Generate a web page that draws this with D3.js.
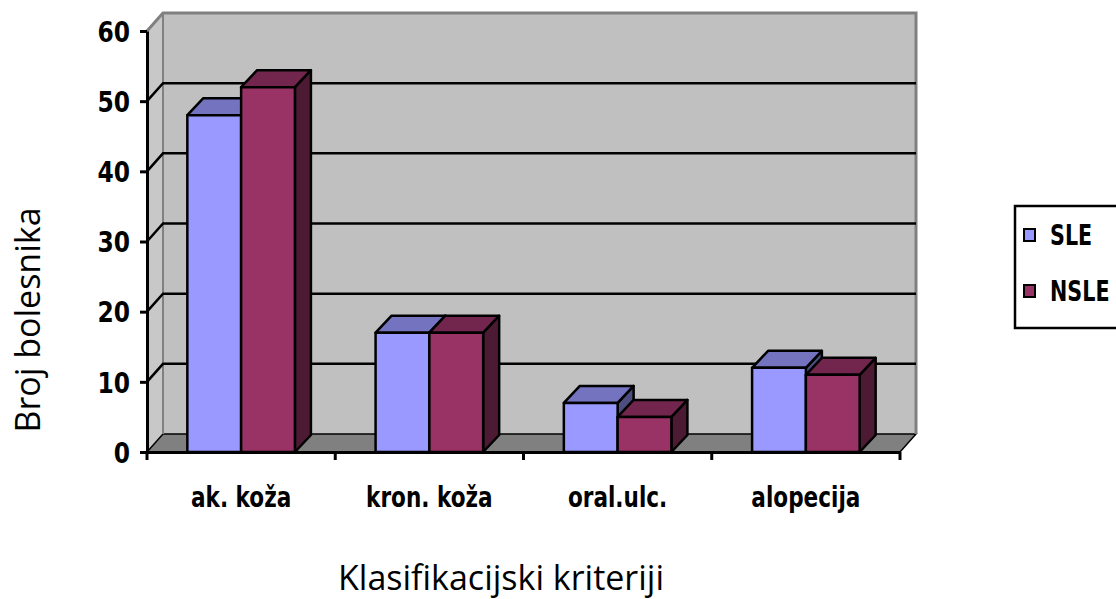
<!DOCTYPE html>
<html>
<head>
<meta charset="utf-8">
<script src="https://cdn.jsdelivr.net/npm/d3@7"></script>
<style>
  body { margin: 0; background: #fff; }
  text { font-family: "DejaVu Sans Condensed", "DejaVu Sans", sans-serif; }
</style>
</head>
<body>
<svg id="chart" width="1116" height="599"></svg>
<script>
const categories = ['ak. koža', 'kron. koža', 'oral.ulc.', 'alopecija'];
const seriesNames = ['SLE', 'NSLE'];
const sleValues = [48, 17, 7, 12];
const nsleValues = [52, 17, 5, 11];
const yTicks = [0, 10, 20, 30, 40, 50, 60];

const colors = {
  SLE: { front: '#9999ff', top: '#7373bf', side: '#4d4d80' },
  NSLE: { front: '#993366', top: '#73264d', side: '#4d1a33' }
};

const svg = d3.select('#chart');

// plot box (front plane) and depth offset
const plotLeft = 147, plotRight = 900, plotBottom = 452, plotTop = 31;
const dx = 16, dy = -18;
const bdx = 16, bdy = -17; // bar depth
const stretch = 1.2; // narrow bold labels, stretched vertically

const y = d3.scaleLinear().domain([0, 60]).range([plotBottom, plotTop]);
const x = d3.scaleBand().domain(categories).range([plotLeft, plotRight]).paddingInner(0).paddingOuter(0);
const xs = d3.scaleBand().domain(seriesNames).range([0, x.bandwidth()]).paddingOuter(0.75).paddingInner(0);

// back wall
svg.append('rect')
  .attr('x', plotLeft + dx).attr('y', plotTop + dy)
  .attr('width', plotRight - plotLeft).attr('height', plotBottom - plotTop)
  .attr('fill', '#c0c0c0');

// side wall
svg.append('polygon')
  .attr('points', [[plotLeft, plotTop], [plotLeft + dx, plotTop + dy], [plotLeft + dx, plotBottom + dy], [plotLeft, plotBottom]].join(' '))
  .attr('fill', '#c8c8c8');

// floor
svg.append('polygon')
  .attr('points', [[plotLeft, plotBottom], [plotRight, plotBottom], [plotRight + dx, plotBottom + dy], [plotLeft + dx, plotBottom + dy]].join(' '))
  .attr('fill', '#808080')
  .attr('stroke', '#000').attr('stroke-width', 1.5);

// wall edges
svg.append('path')
  .attr('d', `M${plotLeft},${plotTop}L${plotLeft + dx},${plotTop + dy}H${plotRight + dx}V${plotBottom + dy}`)
  .attr('fill', 'none').attr('stroke', '#808080').attr('stroke-width', 3);
svg.append('line')
  .attr('x1', plotLeft + dx).attr('x2', plotLeft + dx)
  .attr('y1', plotTop + dy).attr('y2', plotBottom + dy)
  .attr('stroke', '#808080').attr('stroke-width', 2);

// gridlines (back wall + side wall)
const grid = svg.append('g');
yTicks.filter(t => t > 0 && t < 60).forEach(t => {
  grid.append('path')
    .attr('d', `M${plotLeft},${y(t)}L${plotLeft + dx},${y(t) + dy}H${plotRight + dx}`)
    .attr('fill', 'none').attr('stroke', '#000').attr('stroke-width', 2.5);
});

// bars
const bars = svg.append('g');
categories.forEach((c, i) => {
  const vals = { SLE: sleValues[i], NSLE: nsleValues[i] };
  seriesNames.forEach(s => {
    const x0 = x(c) + xs(s), x1 = x0 + xs.bandwidth();
    const yv = y(vals[s]), y0 = y(0);
    const col = colors[s];
    const g = bars.append('g').attr('stroke', '#000').attr('stroke-width', 2.5).attr('stroke-linejoin', 'round');
    g.append('polygon')
      .attr('points', [[x1, yv], [x1 + bdx, yv + bdy], [x1 + bdx, y0 + bdy], [x1, y0]].join(' '))
      .attr('fill', col.side);
    g.append('polygon')
      .attr('points', [[x0, yv], [x1, yv], [x1 + bdx, yv + bdy], [x0 + bdx, yv + bdy]].join(' '))
      .attr('fill', col.top);
    g.append('rect')
      .attr('x', x0).attr('y', yv).attr('width', x1 - x0).attr('height', y0 - yv)
      .attr('fill', col.front);
  });
});

// y axis
const yAxis = svg.append('g').attr('transform', `translate(${plotLeft},0)`)
  .call(d3.axisLeft(y).tickValues(yTicks).tickSize(7).tickPadding(10).tickSizeOuter(0));
yAxis.attr('font-family', null);
yAxis.select('.domain').attr('stroke-width', 3);
yAxis.selectAll('.tick line').attr('stroke-width', 3);
yAxis.selectAll('text').attr('font-size', 26).attr('font-weight', 'bold').attr('fill', '#000')
  .attr('dy', '0.36em').attr('transform', 'scale(1,1.1)');

// x axis
const xAxis = svg.append('g').attr('transform', `translate(0,${plotBottom})`)
  .call(d3.axisBottom(x).tickSize(0).tickPadding(0).tickSizeOuter(0));
xAxis.attr('font-family', null);
xAxis.select('.domain').attr('stroke-width', 3);
xAxis.selectAll('text').attr('font-size', 24).attr('font-weight', 'bold').attr('fill', '#000')
  .attr('y', 55 / stretch).attr('dy', null).attr('transform', `scale(1,${stretch})`);
x.domain().concat([null]).forEach((c, i) => {
  const xp = i < categories.length ? x(c) : plotRight;
  xAxis.append('line').attr('x1', xp).attr('x2', xp).attr('y1', 0).attr('y2', 8)
    .attr('stroke', '#000').attr('stroke-width', 3);
});

// axis titles
svg.append('text')
  .attr('transform', 'translate(40,320) rotate(-90)')
  .attr('text-anchor', 'middle')
  .attr('font-size', 34)
  .style('font-family', '"Open Sans", sans-serif')
  .text('Broj bolesnika');

svg.append('text')
  .attr('x', 501).attr('y', 590)
  .attr('text-anchor', 'middle')
  .attr('font-size', 34)
  .style('font-family', '"Open Sans", sans-serif')
  .text('Klasifikacijski kriteriji');

// legend
const legend = svg.append('g').attr('transform', 'translate(1015,206)');
legend.append('rect').attr('x', 0).attr('y', 0).attr('width', 110).attr('height', 122)
  .attr('fill', '#fff').attr('stroke', '#000').attr('stroke-width', 2.5);
seriesNames.forEach((s, i) => {
  const ly = 29 + i * 56;
  legend.append('rect').attr('x', 9).attr('y', ly - 6).attr('width', 11).attr('height', 12)
    .attr('fill', colors[s].front).attr('stroke', '#000').attr('stroke-width', 2);
  legend.append('text').attr('x', 35).attr('y', (ly + 10) / stretch)
    .attr('transform', `scale(1,${stretch})`)
    .attr('font-size', 23).attr('font-weight', 'bold').text(s);
});
</script>
</body>
</html>
